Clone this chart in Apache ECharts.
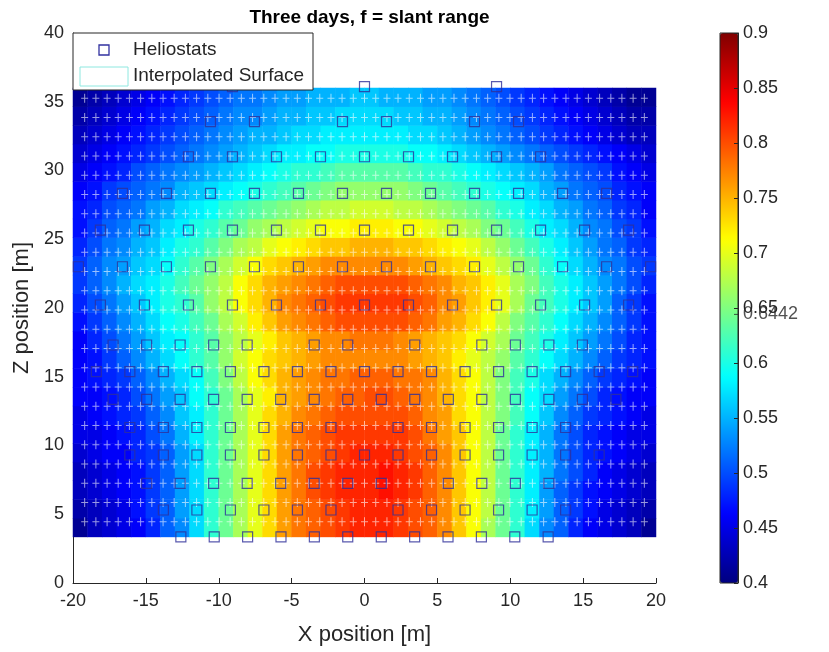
<!DOCTYPE html>
<html>
<head>
<meta charset="utf-8">
<title>Three days, f = slant range</title>
<script src="https://cdn.jsdelivr.net/npm/echarts@6/dist/echarts.min.js"></script>
<style>
    html, body { margin: 0; padding: 0; background: #fff; }
    #chart { width: 829px; height: 652px; }
</style>
</head>
<body>
<div id="chart"></div>
<script>
// surface cells: x centres (m), z centres (m) (bottom row first)
var surfX = [-19.5, -18.5, -17.5, -16.5, -15.5, -14.5, -13.5, -12.5, -11.5, -10.5, -9.5, -8.5, -7.5, -6.5,
    -5.5, -4.5, -3.5, -2.5, -1.5, -0.5, 0.5, 1.5, 2.5, 3.5, 4.5, 5.5, 6.5, 7.5, 8.5, 9.5, 10.5, 11.5, 12.5,
    13.5, 14.5, 15.5, 16.5, 17.5, 18.5, 19.5];
var surfZ = ['4.0', '5.4', '6.8', '8.1', '9.5', '10.8', '12.2', '13.6', '14.9', '16.3', '17.6', '19.0',
    '20.4', '21.7', '23.1', '24.4', '25.8', '27.2', '28.5', '29.9', '31.2', '32.6', '34.0', '35.3'];
var surfZMin = 3.35;
var surfZMax = 36.0;
var surfValues = [
    [0.41,0.43,0.44,0.45,0.46,0.48,0.51,0.53,0.57,0.61,0.64,0.67,0.70,0.73,0.76,0.78,0.79,0.80,0.81,0.82,
     0.82,0.82,0.81,0.80,0.79,0.77,0.74,0.71,0.67,0.64,0.61,0.57,0.53,0.51,0.48,0.46,0.45,0.44,0.43,0.41],
    [0.42,0.43,0.44,0.45,0.47,0.49,0.51,0.54,0.57,0.61,0.64,0.67,0.70,0.73,0.76,0.78,0.79,0.80,0.81,0.82,
     0.82,0.82,0.81,0.80,0.79,0.77,0.74,0.71,0.68,0.64,0.61,0.58,0.54,0.51,0.49,0.47,0.45,0.44,0.43,0.42],
    [0.43,0.44,0.45,0.46,0.47,0.49,0.51,0.54,0.57,0.61,0.64,0.67,0.70,0.73,0.76,0.78,0.80,0.81,0.82,0.82,
     0.82,0.83,0.82,0.81,0.79,0.77,0.74,0.71,0.68,0.64,0.61,0.58,0.54,0.51,0.49,0.47,0.46,0.45,0.44,0.43],
    [0.43,0.44,0.45,0.46,0.47,0.49,0.51,0.54,0.57,0.61,0.64,0.67,0.70,0.73,0.76,0.78,0.80,0.81,0.82,0.82,
     0.82,0.83,0.82,0.81,0.79,0.77,0.74,0.71,0.68,0.64,0.61,0.58,0.55,0.52,0.50,0.48,0.46,0.45,0.44,0.43],
    [0.44,0.45,0.46,0.46,0.48,0.49,0.51,0.54,0.57,0.61,0.64,0.67,0.70,0.73,0.76,0.78,0.79,0.80,0.81,0.82,
     0.82,0.82,0.81,0.80,0.79,0.77,0.74,0.71,0.68,0.64,0.61,0.58,0.55,0.52,0.50,0.48,0.47,0.46,0.45,0.44],
    [0.45,0.45,0.46,0.47,0.48,0.50,0.52,0.55,0.58,0.61,0.64,0.67,0.70,0.73,0.76,0.78,0.79,0.80,0.81,0.81,
     0.81,0.81,0.81,0.80,0.78,0.76,0.74,0.71,0.68,0.64,0.61,0.58,0.55,0.52,0.50,0.48,0.47,0.46,0.45,0.45],
    [0.45,0.46,0.47,0.48,0.49,0.51,0.53,0.56,0.58,0.61,0.64,0.67,0.70,0.73,0.75,0.77,0.78,0.79,0.80,0.80,
     0.80,0.80,0.80,0.79,0.77,0.76,0.73,0.71,0.68,0.65,0.62,0.59,0.56,0.53,0.51,0.49,0.48,0.47,0.46,0.45],
    [0.46,0.46,0.47,0.48,0.50,0.52,0.54,0.56,0.59,0.61,0.64,0.67,0.70,0.72,0.75,0.76,0.77,0.78,0.79,0.79,
     0.80,0.80,0.79,0.78,0.77,0.75,0.73,0.71,0.68,0.65,0.62,0.59,0.57,0.54,0.52,0.50,0.48,0.47,0.46,0.46],
    [0.46,0.47,0.48,0.49,0.51,0.53,0.55,0.57,0.59,0.62,0.65,0.68,0.71,0.73,0.75,0.76,0.77,0.78,0.78,0.79,
     0.79,0.79,0.78,0.78,0.77,0.75,0.73,0.71,0.68,0.65,0.62,0.60,0.57,0.55,0.53,0.51,0.49,0.48,0.47,0.46],
    [0.46,0.47,0.49,0.51,0.53,0.55,0.57,0.59,0.61,0.63,0.66,0.69,0.71,0.73,0.74,0.75,0.76,0.77,0.77,0.77,
     0.77,0.77,0.77,0.76,0.75,0.74,0.72,0.70,0.68,0.66,0.63,0.61,0.59,0.57,0.55,0.53,0.51,0.49,0.48,0.47],
    [0.46,0.48,0.50,0.52,0.54,0.56,0.58,0.59,0.61,0.63,0.66,0.68,0.70,0.72,0.74,0.75,0.76,0.77,0.77,0.78,
     0.78,0.78,0.77,0.76,0.75,0.74,0.73,0.71,0.69,0.67,0.64,0.62,0.60,0.58,0.56,0.54,0.52,0.50,0.48,0.47],
    [0.47,0.49,0.51,0.53,0.55,0.57,0.59,0.60,0.62,0.64,0.67,0.69,0.72,0.74,0.76,0.77,0.78,0.79,0.80,0.80,
     0.80,0.80,0.80,0.79,0.78,0.76,0.75,0.73,0.71,0.68,0.65,0.63,0.61,0.59,0.57,0.55,0.53,0.51,0.49,0.47],
    [0.48,0.50,0.52,0.54,0.56,0.58,0.60,0.61,0.63,0.66,0.68,0.71,0.73,0.75,0.77,0.78,0.79,0.80,0.81,0.81,
     0.81,0.81,0.81,0.80,0.79,0.77,0.76,0.74,0.72,0.70,0.67,0.64,0.62,0.60,0.58,0.56,0.54,0.51,0.49,0.47],
    [0.49,0.51,0.53,0.55,0.57,0.58,0.60,0.62,0.64,0.66,0.68,0.71,0.73,0.75,0.76,0.77,0.78,0.79,0.80,0.80,
     0.80,0.80,0.80,0.79,0.78,0.77,0.75,0.74,0.72,0.70,0.67,0.65,0.62,0.60,0.58,0.56,0.54,0.52,0.50,0.48],
    [0.49,0.51,0.53,0.54,0.56,0.57,0.59,0.61,0.63,0.65,0.67,0.69,0.71,0.73,0.74,0.75,0.76,0.77,0.77,0.77,
     0.77,0.77,0.77,0.76,0.75,0.74,0.73,0.72,0.70,0.68,0.66,0.64,0.61,0.59,0.57,0.55,0.53,0.52,0.50,0.49],
    [0.48,0.50,0.52,0.53,0.55,0.56,0.58,0.60,0.61,0.63,0.65,0.67,0.68,0.70,0.71,0.72,0.73,0.74,0.74,0.75,
     0.75,0.75,0.74,0.74,0.73,0.72,0.71,0.70,0.68,0.66,0.64,0.62,0.60,0.58,0.56,0.54,0.52,0.51,0.49,0.48],
    [0.47,0.49,0.51,0.52,0.54,0.55,0.57,0.58,0.60,0.61,0.63,0.64,0.66,0.67,0.68,0.69,0.70,0.71,0.71,0.72,
     0.72,0.72,0.71,0.71,0.70,0.69,0.68,0.67,0.65,0.64,0.62,0.60,0.58,0.57,0.55,0.53,0.52,0.50,0.49,0.47],
    [0.47,0.48,0.50,0.51,0.52,0.54,0.55,0.57,0.58,0.59,0.61,0.62,0.63,0.64,0.65,0.66,0.67,0.68,0.68,0.69,
     0.69,0.69,0.68,0.68,0.67,0.66,0.65,0.64,0.63,0.61,0.60,0.58,0.57,0.55,0.54,0.52,0.51,0.49,0.48,0.46],
    [0.46,0.47,0.49,0.50,0.51,0.52,0.53,0.55,0.56,0.57,0.58,0.59,0.60,0.61,0.62,0.63,0.64,0.65,0.66,0.66,
     0.66,0.66,0.66,0.65,0.64,0.63,0.62,0.61,0.60,0.59,0.58,0.57,0.55,0.54,0.52,0.51,0.50,0.48,0.47,0.46],
    [0.45,0.46,0.47,0.48,0.50,0.51,0.52,0.53,0.54,0.55,0.56,0.57,0.58,0.59,0.60,0.61,0.61,0.62,0.63,0.63,
     0.63,0.63,0.63,0.62,0.61,0.61,0.60,0.59,0.58,0.57,0.56,0.55,0.54,0.52,0.51,0.50,0.49,0.47,0.46,0.45],
    [0.44,0.45,0.46,0.47,0.48,0.49,0.50,0.51,0.52,0.53,0.54,0.55,0.56,0.57,0.58,0.58,0.59,0.59,0.60,0.60,
     0.60,0.60,0.60,0.59,0.59,0.58,0.57,0.56,0.55,0.54,0.53,0.52,0.51,0.50,0.49,0.48,0.47,0.46,0.45,0.44],
    [0.43,0.44,0.45,0.46,0.47,0.48,0.49,0.50,0.51,0.52,0.53,0.54,0.55,0.55,0.56,0.57,0.57,0.58,0.58,0.58,
     0.58,0.58,0.58,0.57,0.57,0.56,0.55,0.54,0.53,0.52,0.51,0.50,0.49,0.48,0.47,0.46,0.45,0.44,0.43,0.43],
    [0.42,0.43,0.44,0.45,0.46,0.47,0.48,0.49,0.50,0.51,0.52,0.53,0.53,0.54,0.55,0.55,0.56,0.56,0.57,0.57,
     0.57,0.57,0.56,0.56,0.55,0.55,0.54,0.53,0.52,0.51,0.50,0.49,0.48,0.47,0.46,0.45,0.44,0.43,0.42,0.42],
    [0.41,0.42,0.43,0.44,0.45,0.46,0.47,0.48,0.49,0.50,0.51,0.52,0.52,0.53,0.54,0.54,0.55,0.55,0.55,0.56,
     0.56,0.55,0.55,0.55,0.54,0.54,0.53,0.52,0.51,0.50,0.49,0.48,0.47,0.46,0.45,0.44,0.43,0.42,0.41,0.41]
];

// heliostat rows that show in the picture
var helioRowZ = [3.35, 5.31, 7.25, 9.31, 11.31, 13.36, 15.37, 17.31, 20.22, 23.0, 25.67, 28.34, 31.0, 33.56, 36.1];
var helioRowX = [
    [-12.6, -10.31, -8.02, -5.73, -3.44, -1.15, 1.15, 3.44, 5.73, 8.02, 10.31, 12.6],
    [-13.8, -11.5, -9.2, -6.9, -4.6, -2.3, 2.3, 4.6, 6.9, 9.2, 11.5, 13.8],
    [-14.95, -12.65, -10.35, -8.05, -5.75, -3.45, -1.15, 1.15, 5.75, 8.05, 10.35, 12.65],
    [-16.1, -13.8, -11.5, -9.2, -6.9, -4.6, -2.3, 0, 2.3, 4.6, 6.9, 9.2, 11.5, 13.8, 16.1],
    [-16.1, -13.8, -11.5, -9.2, -6.9, -4.6, -2.3, 2.3, 4.6, 6.9, 9.2, 11.5, 13.8],
    [-17.25, -14.95, -12.65, -10.35, -8.05, -5.75, -3.45, -1.15, 1.15, 3.45, 5.75, 8.05, 10.35, 12.65, 14.95, 17.25],
    [-18.4, -16.1, -13.8, -11.5, -9.2, -6.9, -4.6, -2.3, 0, 2.3, 4.6, 6.9, 9.2, 11.5, 13.8, 16.1, 18.4],
    [-17.25, -14.95, -12.65, -10.35, -8.05, -3.45, -1.15, 3.45, 8.05, 10.35, 12.65, 14.95],
    [-18.12, -15.1, -12.08, -9.06, -6.04, -3.02, 0, 3.02, 6.04, 9.06, 12.08, 15.1, 18.12],
    [-19.63, -16.61, -13.59, -10.57, -7.55, -4.53, -1.51, 1.51, 4.53, 7.55, 10.57, 13.59, 16.61, 19.63],
    [-18.12, -15.1, -12.08, -9.06, -6.04, -3.02, 0, 3.02, 6.04, 9.06, 12.08, 15.1, 18.12],
    [-16.61, -13.59, -10.57, -7.55, -4.53, -1.51, 1.51, 4.53, 7.55, 10.57, 13.59, 16.61],
    [-12.08, -9.06, -6.04, -3.02, 0, 3.02, 6.04, 9.06, 12.08],
    [-10.57, -7.55, -1.51, 1.51, 7.55, 10.57],
    [-9.06, 0, 9.06]
];

// white mesh points of the surface
var meshX = [-19.2, -18.43, -17.66, -16.9, -16.13, -15.36, -14.59, -13.82, -13.06, -12.29, -11.52, -10.75, -9.98,
    -9.22, -8.45, -7.68, -6.91, -6.14, -5.38, -4.61, -3.84, -3.07, -2.3, -1.54, -0.77, 0, 0.77, 1.54, 2.3, 3.07,
    3.84, 4.61, 5.38, 6.14, 6.91, 7.68, 8.45, 9.22, 9.98, 10.75, 11.52, 12.29, 13.06, 13.82, 14.59, 15.36, 16.13,
    16.9, 17.66, 18.43, 19.2];
var meshZ = [4.46, 5.86, 7.26, 8.66, 10.06, 11.46, 12.86, 14.26, 15.66, 17.06, 18.46, 19.86, 21.26, 22.66, 24.06,
    25.46, 26.86, 28.26, 29.66, 31.06, 32.46, 33.86, 35.26];

var cbarMin = 0.4;
var cbarMax = 0.9;
var markedValue = 0.6442;

var jet = ['#000080', '#0000ff', '#0080ff', '#00ffff', '#80ff80', '#ffff00', '#ff8000', '#ff0000', '#800000'];
var textColor = '#262626';
var font = "'Liberation Sans', Arial, sans-serif";

// plot box in pixels
var plot = {left: 73, top: 33, width: 583, height: 550};
var zToY = function (z) {
    return plot.top + plot.height * (1 - z / 40);
};
var surfTop = zToY(surfZMax);
var surfBottom = zToY(surfZMin);

var heatData = [];
for (var i = 0; i < surfZ.length; i++) {
    for (var j = 0; j < surfX.length; j++) {
        heatData.push([j, i, surfValues[i][j]]);
    }
}
var meshData = [];
for (var a = 0; a < meshZ.length; a++) {
    for (var b = 0; b < meshX.length; b++) {
        meshData.push([meshX[b], meshZ[a]]);
    }
}
var helioData = [];
for (var r = 0; r < helioRowZ.length; r++) {
    for (var k = 0; k < helioRowX[r].length; k++) {
        helioData.push([helioRowX[r][k], helioRowZ[r]]);
    }
}

var chart = echarts.init(document.getElementById('chart'));
var option = {
    animation: false,
    textStyle: {fontFamily: font},
    title: {
        text: 'Three days, f = slant range',
        left: plot.left + plot.width / 2,
        textAlign: 'center',
        top: 3,
        textStyle: {fontSize: 19, fontWeight: 'bold', color: '#000', fontFamily: font}
    },
    grid: [
        {left: plot.left, top: plot.top, width: plot.width, height: plot.height},
        {left: plot.left, top: surfTop, width: plot.width, height: surfBottom - surfTop},
        {left: 720, top: plot.top, width: 18, height: plot.height}
    ],
    xAxis: [{
        gridIndex: 0,
        type: 'value',
        min: -20,
        max: 20,
        interval: 5,
        name: 'X position [m]',
        nameLocation: 'middle',
        nameGap: 41,
        nameTextStyle: {fontSize: 22, color: textColor},
        axisLine: {onZero: false, lineStyle: {color: textColor}},
        axisTick: {inside: true, length: 5, lineStyle: {color: textColor}},
        axisLabel: {fontSize: 18, color: textColor, margin: 9},
        splitLine: {show: false}
    }, {
        gridIndex: 1,
        type: 'category',
        data: surfX,
        show: false
    }, {
        gridIndex: 2,
        type: 'value',
        min: 0,
        max: 1,
        show: false
    }],
    yAxis: [{
        gridIndex: 0,
        type: 'value',
        min: 0,
        max: 40,
        interval: 5,
        name: 'Z position [m]',
        nameLocation: 'middle',
        nameGap: 37,
        nameTextStyle: {fontSize: 22, color: textColor},
        axisLine: {show: true, onZero: false, lineStyle: {color: textColor}},
        axisTick: {show: true, inside: true, length: 5, lineStyle: {color: textColor}},
        axisLabel: {fontSize: 18, color: textColor, margin: 9},
        splitLine: {show: false}
    }, {
        gridIndex: 1,
        type: 'category',
        data: surfZ,
        show: false
    }, {
        gridIndex: 2,
        type: 'value',
        position: 'right',
        min: cbarMin,
        max: cbarMax,
        interval: 0.05,
        z: 10,
        axisLine: {show: true, onZero: false, lineStyle: {color: textColor}},
        axisTick: {show: true, inside: true, length: 4, lineStyle: {color: textColor}},
        axisLabel: {fontSize: 18, color: textColor, margin: 5},
        splitLine: {show: false}
    }],
    visualMap: {
        type: 'continuous',
        seriesIndex: 0,
        min: cbarMin,
        max: cbarMax,
        calculable: false,
        hoverLink: false,
        left: 720,
        top: plot.top,
        itemWidth: 18,
        itemHeight: plot.height,
        padding: 0,
        inRange: {color: jet}
    },
    series: [{
        name: 'Interpolated Surface',
        type: 'heatmap',
        xAxisIndex: 1,
        yAxisIndex: 1,
        data: heatData,
        silent: true,
        z: 2
    }, {
        name: 'mesh',
        type: 'scatter',
        xAxisIndex: 0,
        yAxisIndex: 0,
        data: meshData,
        symbol: 'path://M3,0h1v9h-1zM0,4h7v1h-7z',
        symbolSize: [7, 9],
        itemStyle: {color: 'rgba(255,255,255,0.75)'},
        silent: true,
        z: 3
    }, {
        name: 'Heliostats',
        type: 'scatter',
        xAxisIndex: 0,
        yAxisIndex: 0,
        data: helioData,
        symbol: 'rect',
        symbolSize: 10,
        itemStyle: {color: 'rgba(0,0,0,0)', borderColor: '#30309a', borderWidth: 1.2},
        silent: true,
        z: 4
    }, {
        name: 'marked',
        type: 'scatter',
        xAxisIndex: 2,
        yAxisIndex: 2,
        data: [[1, markedValue]],
        symbol: 'rect',
        symbolSize: [4, 1],
        symbolOffset: [-2, 0],
        itemStyle: {color: textColor},
        label: {
            show: true,
            position: 'right',
            distance: 5,
            formatter: String(markedValue),
            fontSize: 18,
            color: textColor
        },
        silent: true,
        z: 10
    }],
    graphic: [{
        type: 'rect',
        z: 100,
        shape: {x: 720, y: plot.top, width: 18, height: plot.height},
        style: {fill: 'none', stroke: textColor, lineWidth: 1}
    }, {
        type: 'rect',
        z: 100,
        shape: {x: plot.left, y: plot.top, width: 240, height: 57},
        style: {fill: '#fff', stroke: textColor, lineWidth: 1}
    }, {
        type: 'rect',
        z: 101,
        shape: {x: 99, y: 45, width: 10, height: 10},
        style: {fill: 'none', stroke: '#3232a0', lineWidth: 1.3}
    }, {
        type: 'rect',
        z: 101,
        shape: {x: 80, y: 67, width: 48, height: 19},
        style: {fill: '#fff', stroke: '#8ee8e0', lineWidth: 1}
    }, {
        type: 'text',
        z: 101,
        x: 133,
        y: 50,
        style: {text: 'Heliostats', fontSize: 19, fontFamily: font, fill: textColor, verticalAlign: 'middle'}
    }, {
        type: 'text',
        z: 101,
        x: 133,
        y: 76,
        style: {text: 'Interpolated Surface', fontSize: 19, fontFamily: font, fill: textColor, verticalAlign: 'middle'}
    }]
};
chart.setOption(option);
</script>
</body>
</html>
